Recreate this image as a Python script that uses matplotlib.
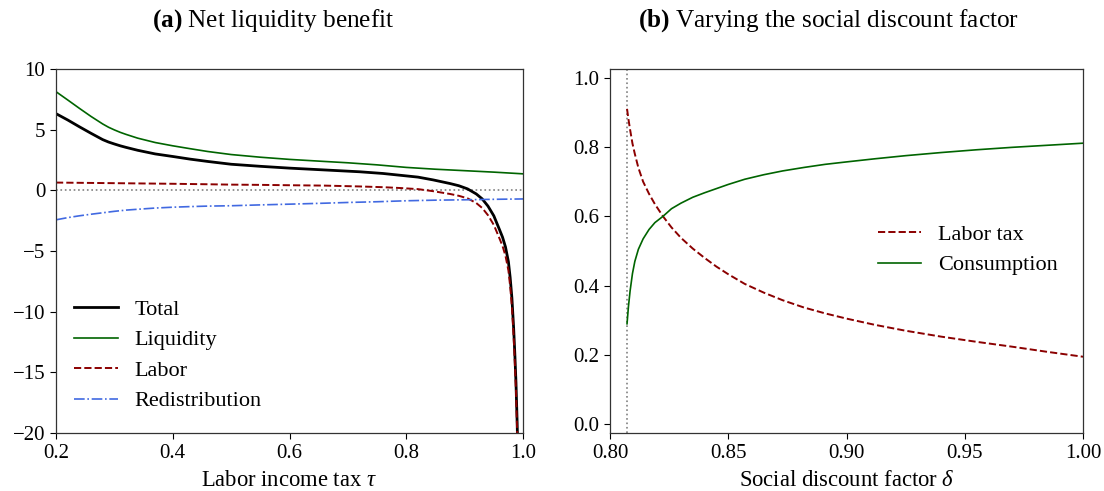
import matplotlib
matplotlib.use("Agg")
import matplotlib.pyplot as plt
import matplotlib.ticker as mticker

plt.rcParams["font.family"] = ["Liberation Serif", "DejaVu Serif"]
plt.rcParams["mathtext.fontset"] = "custom"
plt.rcParams["mathtext.rm"] = "Liberation Serif"
plt.rcParams["mathtext.it"] = "Liberation Serif:italic"
plt.rcParams["mathtext.bf"] = "Liberation Serif:bold"
plt.rcParams["axes.unicode_minus"] = True

# --- Panel (a): decomposition of the net liquidity benefit ---
tau_smooth = [0.20, 0.22, 0.24, 0.26, 0.28, 0.29, 0.30, 0.31, 0.32, 0.34, 0.37, 0.40, 0.43,
              0.46, 0.50, 0.55, 0.60, 0.66, 0.70, 0.75, 0.80, 0.85, 0.90, 0.95, 1.00]
liquidity = [8.13, 7.45, 6.76, 6.09, 5.47, 5.20, 4.98, 4.78, 4.61, 4.30, 3.94, 3.67, 3.43,
             3.20, 2.95, 2.73, 2.55, 2.38, 2.27, 2.10, 1.89, 1.74, 1.62, 1.50, 1.36]
redistribution = [-2.43, -2.25, -2.10, -1.97, -1.85, -1.79, -1.73, -1.68, -1.63, -1.56, -1.46,
                  -1.39, -1.34, -1.30, -1.27, -1.20, -1.14, -1.06, -1.00, -0.94, -0.86, -0.81,
                  -0.78, -0.74, -0.71]

tau_steep = [0.20, 0.22, 0.24, 0.26, 0.28, 0.29, 0.30, 0.31, 0.32, 0.34, 0.37, 0.40,
             0.43, 0.46, 0.50, 0.55, 0.60, 0.66, 0.72, 0.76, 0.79, 0.82,
             0.846, 0.875, 0.89, 0.905, 0.92, 0.93, 0.94, 0.95, 0.96, 0.965,
             0.97, 0.975, 0.978, 0.981, 0.984, 0.986, 0.988, 0.990, 0.992]
labor = [0.64, 0.63, 0.62, 0.61, 0.60, 0.595, 0.59, 0.585, 0.58, 0.57, 0.555, 0.54,
         0.52, 0.50, 0.47, 0.45, 0.42, 0.39, 0.32, 0.26, 0.19, 0.10,
         -0.07, -0.30, -0.45, -0.66, -1.05, -1.45, -2.05, -2.85, -4.0, -4.6,
         -5.4, -6.6, -7.9, -9.6, -12.1, -14.2, -16.6, -19.9, -24.0]
total = [6.32, 5.80, 5.24, 4.70, 4.18, 3.98, 3.82, 3.67, 3.54, 3.30, 3.00, 2.79,
         2.57, 2.38, 2.15, 1.98, 1.83, 1.68, 1.53, 1.39, 1.24, 1.09,
         0.86, 0.56, 0.38, 0.12, -0.30, -0.70, -1.30, -2.10, -3.27, -3.87,
         -4.67, -5.88, -7.18, -8.88, -11.38, -13.48, -15.88, -19.18, -23.3]

# --- Panel (b): optimal policy as the social discount factor varies ---
delta_min = 0.807
delta = [0.8072, 0.8078, 0.8085, 0.8095, 0.8105, 0.812, 0.814, 0.8165, 0.819, 0.8224,
         0.826, 0.83, 0.835, 0.84, 0.845, 0.85, 0.857, 0.865, 0.873, 0.882,
         0.891, 0.90, 0.912, 0.925, 0.94, 0.955, 0.97, 0.985, 1.0]
labor_tax = [0.91, 0.88, 0.85, 0.81, 0.78, 0.74, 0.70, 0.665, 0.635, 0.60,
             0.568, 0.538, 0.507, 0.48, 0.455, 0.433, 0.405, 0.38, 0.358, 0.337,
             0.32, 0.305, 0.287, 0.27, 0.253, 0.238, 0.224, 0.209, 0.195]
consumption = [0.29, 0.34, 0.385, 0.435, 0.47, 0.505, 0.535, 0.562, 0.582, 0.60,
               0.622, 0.638, 0.655, 0.668, 0.68, 0.692, 0.707, 0.72, 0.731, 0.741,
               0.75, 0.757, 0.766, 0.775, 0.784, 0.792, 0.799, 0.805, 0.811]

W, H = 1104, 491
TICK_FS = 15
LABEL_FS = 16.3
LEG_FS = 16
TITLE_FS = 18.2

fig = plt.figure(figsize=(W / 100, H / 100), dpi=100)
ax1 = fig.add_axes([56 / W, 1 - 433 / H, (523 - 56) / W, (433 - 69) / H])
ax2 = fig.add_axes([610 / W, 1 - 433 / H, (1083 - 610) / W, (433 - 69) / H])

# Panel (a)
ax1.axhline(0, color="gray", linestyle=":", linewidth=1.2)
ax1.plot(tau_steep, total, color="black", linewidth=2.0, label="Total")
ax1.plot(tau_smooth, liquidity, color="darkgreen", linewidth=1.2, label="Liquidity")
ax1.plot(tau_steep, labor, color="darkred", linewidth=1.4, linestyle="--", label="Labor")
ax1.plot(tau_smooth, redistribution, color="royalblue", linewidth=1.2, linestyle="-.",
         label="Redistribution")
ax1.set_xlim(0.2, 1.0)
ax1.set_ylim(-20, 10)
ax1.xaxis.set_major_locator(mticker.MultipleLocator(0.2))
ax1.xaxis.set_major_formatter(mticker.FormatStrFormatter("%.1f"))
ax1.yaxis.set_major_locator(mticker.MultipleLocator(5))
ax1.legend(loc="upper left", bbox_to_anchor=(0.019, 0.392), borderaxespad=0,
           frameon=False, fontsize=LEG_FS, handlelength=2.0, labelspacing=0.45,
           handletextpad=0.72)

# Panel (b)
ax2.axvline(delta_min, color="gray", linestyle=":", linewidth=1.2)
ax2.plot(delta, labor_tax, color="darkred", linewidth=1.4, linestyle="--", label="Labor tax")
ax2.plot(delta, consumption, color="darkgreen", linewidth=1.2, label="Consumption")
ax2.set_xlim(0.8, 1.0)
ax2.set_ylim(-0.025, 1.025)
ax2.xaxis.set_major_locator(mticker.MultipleLocator(0.05))
ax2.xaxis.set_major_formatter(mticker.FormatStrFormatter("%.2f"))
ax2.yaxis.set_major_locator(mticker.MultipleLocator(0.2))
ax2.yaxis.set_major_formatter(mticker.FormatStrFormatter("%.1f"))
ax2.legend(loc="upper left", bbox_to_anchor=(0.548, 0.598), borderaxespad=0,
           frameon=False, fontsize=LEG_FS, handlelength=1.94, labelspacing=0.45,
           handletextpad=0.75)

for ax in (ax1, ax2):
    ax.tick_params(labelsize=TICK_FS, direction="out", length=4.2, width=0.8, pad=3.5)
    for sp in ax.spines.values():
        sp.set_linewidth(0.9)
        sp.set_color("#333333")

# Axis labels, set on their baselines below the plots
for ax, text in ((ax1, r"Labor income tax $\tau$"), (ax2, r"Social discount factor $\delta$")):
    bb = ax.get_position()
    fig.text((bb.x0 + bb.x1) / 2, 5.5 / H, text, ha="center", va="baseline",
             fontsize=LABEL_FS)

# Panel captions with bold letters
fig.text(273.5 / W, 1 - 27 / H, r"$\mathbf{(a)}$ Net liquidity benefit",
         ha="center", va="baseline", fontsize=TITLE_FS)
fig.text(829 / W, 1 - 27 / H, r"$\mathbf{(b)}$ Varying the social discount factor",
         ha="center", va="baseline", fontsize=TITLE_FS)

fig.savefig("out.png", dpi=100)
